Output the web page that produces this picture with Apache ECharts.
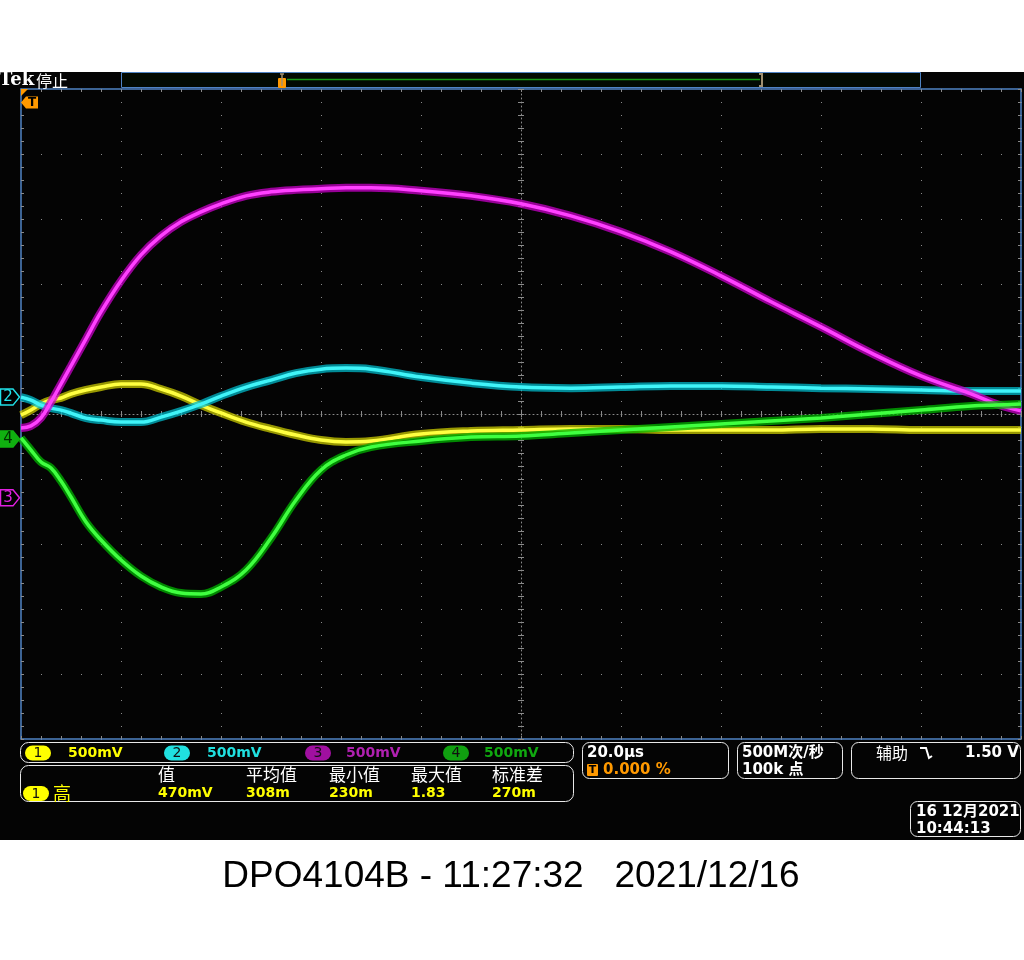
<!DOCTYPE html>
<html><head><meta charset="utf-8">
<script src="https://cdn.jsdelivr.net/npm/echarts@6.0.0/dist/echarts.min.js"></script>
<style>html,body{margin:0;padding:0;background:#fff}#c{width:1024px;height:960px}</style>
</head><body><div id="c"></div>
<script>
// ---- data (time in µs from left edge, volts relative to each channel ground) ----
const TIME_US = [0,2,4,6,8,10,13,16,20,24,28,32,36,40,45,50,55,60,65,70,80,90,100,110,120,130,140,150,160,170,180,190,195,200];
const CH1_V = [-0.008,0.031,0.077,0.108,0.123,0.154,0.185,0.208,0.231,0.231,0.192,0.138,0.069,0.008,-0.062,-0.115,-0.162,-0.200,-0.215,-0.208,-0.154,-0.131,-0.123,-0.115,-0.115,-0.123,-0.123,-0.123,-0.115,-0.115,-0.123,-0.123,-0.123,-0.123];
const CH2_V = [0,-0.023,-0.062,-0.085,-0.100,-0.123,-0.162,-0.177,-0.192,-0.192,-0.154,-0.108,-0.054,0.008,0.077,0.131,0.185,0.215,0.223,0.215,0.154,0.108,0.077,0.069,0.077,0.085,0.085,0.077,0.069,0.062,0.054,0.046,0.046,0.046];
const CH3_V = [0.538,0.554,0.615,0.738,0.877,1.015,1.223,1.430,1.670,1.869,2.015,2.123,2.200,2.262,2.323,2.354,2.369,2.377,2.385,2.385,2.362,2.323,2.262,2.169,2.046,1.892,1.708,1.508,1.315,1.115,0.938,0.800,0.723,0.669];
const CH4_V = [0.008,-0.085,-0.177,-0.223,-0.323,-0.446,-0.638,-0.777,-0.931,-1.054,-1.138,-1.185,-1.192,-1.138,-1.008,-0.762,-0.469,-0.238,-0.123,-0.062,-0.015,0.015,0.023,0.046,0.069,0.092,0.115,0.138,0.162,0.192,0.223,0.254,0.262,0.269];

// instrument settings / texts
const VOLTS_PER_DIV = 0.5;
const CH_GROUND_DIV = [0, 0.26, -1.29, -0.385];
const CH_NAMES = ['1','2','3','4'];
const CH_SCALE_TEXT = ['500mV','500mV','500mV','500mV'];
const MEAS_HEADERS = ['值','平均值','最小值','最大值','标准差'];
const MEAS_VALUES = ['470mV','308m','230m','1.83','270m'];
const MEAS_NAME = '高';
const TIMEBASE = '20.0µs';
const TRIG_POS = '0.000 %';
const SAMPLE_RATE = '500M次/秒';
const RECORD_LEN = '100k 点';
const TRIG_SRC = '辅助';
const TRIG_LEVEL = '1.50 V';
const DATE_TEXT = '16 12月2021';
const TIME_TEXT = '10:44:13';
const STATUS = '停止';
const FOOTER = 'DPO4104B - 11:27:32   2021/12/16';

const CH_DATA = [CH1_V, CH2_V, CH3_V, CH4_V];
const CORE = ['#ffff40', '#40f4f8', '#ff40ff', '#40ff40'];
const BAND = ['#c8c800', '#00b8c8', '#c800c8', '#00b400'];
const BADGE = ['#ffff00', '#20e0e0', '#a010a0', '#10a010'];
const TXT = ['#ffff00', '#20e0e0', '#b020b0', '#10a810'];
const MARK = ['#ffff00', '#20e0e8', '#e020e0', '#10b010'];

const BLUE = '#4f83c4', GRIDC = '#8a8a8a';
const chart = echarts.init(document.getElementById('c'), null, {renderer: 'canvas'});

const GL = 21, GT = 89, GW = 1000, GH = 650;
function hiddenAxisBase() {
  return {axisLabel: {show: false}, splitLine: {show: false}, axisTick: {show: false}, axisLine: {show: false, onZero: false}};
}
const xAxes = [
  Object.assign(hiddenAxisBase(), {type: 'value', min: 0, max: 200, interval: 20, position: 'bottom',
    axisLine: {show: true, onZero: false, lineStyle: {color: BLUE, width: 1.5}},
    splitLine: {show: true, lineStyle: {color: GRIDC, width: 1, type: [1, 12]}}}),
  Object.assign(hiddenAxisBase(), {type: 'value', min: 0, max: 200, interval: 4, position: 'top',
    axisLine: {show: true, onZero: false, lineStyle: {color: BLUE, width: 1.5}},
    axisTick: {show: true, inside: true, length: 3, lineStyle: {color: GRIDC}}}),
  Object.assign(hiddenAxisBase(), {type: 'value', min: 0, max: 200, interval: 4, position: 'bottom',
    axisTick: {show: true, inside: true, length: 3, lineStyle: {color: GRIDC}}}),
  Object.assign(hiddenAxisBase(), {type: 'value', min: 0, max: 200, interval: 4, position: 'bottom', offset: -GH/2,
    axisLine: {show: true, onZero: false, lineStyle: {color: GRIDC, width: 1, type: [1, 3]}},
    axisTick: {show: true, inside: true, length: 3, lineStyle: {color: GRIDC}}}),
  Object.assign(hiddenAxisBase(), {type: 'value', min: 0, max: 200, interval: 4, position: 'bottom', offset: -GH/2,
    axisTick: {show: true, inside: false, length: 3, lineStyle: {color: GRIDC}}})
];
const yAxes = [
  Object.assign(hiddenAxisBase(), {type: 'value', min: -5, max: 5, interval: 1, position: 'left',
    axisLine: {show: true, onZero: false, lineStyle: {color: BLUE, width: 1.5}},
    splitLine: {show: true, lineStyle: {color: GRIDC, width: 1, type: [1, 19]}}}),
  Object.assign(hiddenAxisBase(), {type: 'value', min: -5, max: 5, interval: 0.2, position: 'left',
    axisTick: {show: true, inside: true, length: 3, lineStyle: {color: GRIDC}}}),
  Object.assign(hiddenAxisBase(), {type: 'value', min: -5, max: 5, interval: 0.2, position: 'right',
    axisLine: {show: true, onZero: false, lineStyle: {color: BLUE, width: 1.5}},
    axisTick: {show: true, inside: true, length: 3, lineStyle: {color: GRIDC}}}),
  Object.assign(hiddenAxisBase(), {type: 'value', min: -5, max: 5, interval: 0.2, position: 'left', offset: -GW/2,
    axisLine: {show: true, onZero: false, lineStyle: {color: GRIDC, width: 1, type: [1, 3]}},
    axisTick: {show: true, inside: true, length: 3, lineStyle: {color: GRIDC}}}),
  Object.assign(hiddenAxisBase(), {type: 'value', min: -5, max: 5, interval: 0.2, position: 'left', offset: -GW/2,
    axisTick: {show: true, inside: false, length: 3, lineStyle: {color: GRIDC}}})
];
const CH_AXIS0 = yAxes.length;
CH_GROUND_DIV.forEach(function (off) {
  yAxes.push(Object.assign(hiddenAxisBase(), {type: 'value', show: false,
    min: (-5 - off) * VOLTS_PER_DIV, max: (5 - off) * VOLTS_PER_DIV}));
});

const series = [];
CH_DATA.forEach(function (vals, k) {
  const d = TIME_US.map(function (t, i) { return [t, vals[i]]; });
  series.push({type: 'line', name: 'CH' + (k + 1) + ' band', xAxisIndex: 0, yAxisIndex: CH_AXIS0 + k, data: d,
    smooth: 0.4, symbol: 'none', silent: true, z: 3 + k * 2, animation: false,
    lineStyle: {color: BAND[k], width: 8, opacity: 0.75}});
  series.push({type: 'line', name: 'CH' + (k + 1), xAxisIndex: 0, yAxisIndex: CH_AXIS0 + k, data: d,
    smooth: 0.4, symbol: 'none', silent: true, z: 4 + k * 2, animation: false,
    lineStyle: {color: CORE[k], width: 3.5, opacity: 1}});
});

chart.setOption({
  backgroundColor: '#ffffff',
  animation: false,
  grid: {left: GL, top: GT, width: GW, height: GH, containLabel: false, outerBoundsMode: 'none'},
  xAxis: xAxes, yAxis: yAxes, series: series
});

// ---- decorations ----
function txt(x, y, text, color, font, align) {
  return {type: 'text', x: x, y: y, z: 60, silent: true,
    style: {text: text, fill: color, font: font, textAlign: align || 'left', textVerticalAlign: 'middle',
      align: align || 'left', verticalAlign: 'middle'}};
}
function rrect(x, y, w, h, r, stroke, fill, z) {
  return {type: 'rect', z: z || 50, silent: true, shape: {x: x, y: y, width: w, height: h, r: r},
    style: {fill: fill || 'none', stroke: stroke || 'none', lineWidth: 1}};
}
const MONO = '"DejaVu Sans", "Noto Sans CJK SC", sans-serif';
const CJK = '"Noto Sans CJK SC", "DejaVu Sans", sans-serif';
const g = [];
// black screen
g.push({type: 'rect', z: -100, silent: true, shape: {x: 0, y: 72, width: 1024, height: 768}, style: {fill: '#040404'}});
// top bar
g.push(txt(-1, 80.5, 'Tek', '#ffffff', 'bold 18px "DejaVu Serif", serif'));
g.push(txt(36, 80.5, STATUS, '#ffffff', '16px ' + CJK));
g.push(rrect(121.5, 72.5, 799, 15, 0, BLUE, '#020a02'));
g.push({type: 'line', z: 55, silent: true, shape: {x1: 287, y1: 79.5, x2: 760, y2: 79.5}, style: {stroke: '#1a9a1a', lineWidth: 1.5}});
g.push(rrect(278, 78, 8, 10, 1, null, '#ff9900', 56));
g.push({type: 'polyline', z: 57, silent: true, shape: {points: [[280, 74], [284, 74]]}, style: {stroke: '#a09070', lineWidth: 1.5}});
g.push({type: 'line', z: 57, silent: true, shape: {x1: 282, y1: 74, x2: 282, y2: 86}, style: {stroke: '#a09070', lineWidth: 1.5}});
g.push({type: 'polyline', z: 57, silent: true, shape: {points: [[759, 74], [762, 74], [762, 86], [759, 86]]}, style: {stroke: '#a09070', lineWidth: 2, fill: 'none'}});
// orange corner + trigger T marker
g.push({type: 'polygon', z: 58, silent: true, shape: {points: [[21, 89], [28, 89], [21, 96]]}, style: {fill: '#ff9900'}});
g.push({type: 'polygon', z: 58, silent: true, shape: {points: [[21, 102.5], [26, 96.5], [38, 96.5], [38, 108.5], [26, 108.5]]}, style: {fill: '#ff9900'}});
g.push(txt(32, 103, 'T', '#000000', 'bold 12px ' + MONO, 'center'));
// channel ground markers (position from each channel's axis)
[1, 2, 3].forEach(function (k) {
  const yg = chart.convertToPixel({yAxisIndex: CH_AXIS0 + k}, 0);
  const filled = (k === 3);
  g.push({type: 'polygon', z: 58, silent: true,
    shape: {points: [[0.5, yg - 8], [13, yg - 8], [19.5, yg], [13, yg + 8], [0.5, yg + 8]]},
    style: {fill: filled ? MARK[k] : '#000000', stroke: MARK[k], lineWidth: 1.5}});
  g.push(txt(8, yg + 0.5, CH_NAMES[k], filled ? '#003000' : MARK[k], '15px ' + MONO, 'center'));
});
// bottom row 1: channel scales
g.push(rrect(20.5, 742.5, 553, 20, 8, '#e8e8e8'));
const BADGE_X = [25, 164, 305, 443];
const SCALE_X = [68, 207, 346, 484];
CH_NAMES.forEach(function (n, k) {
  g.push(rrect(BADGE_X[k], 745.5, 26, 15, 7.5, null, BADGE[k], 55));
  g.push(txt(BADGE_X[k] + 13, 753.5, n, '#101010', '14px ' + MONO, 'center'));
  g.push(txt(SCALE_X[k], 753, CH_SCALE_TEXT[k], TXT[k], 'bold 14px ' + MONO));
});
// row 2: measurements
g.push(rrect(20.5, 765.5, 553, 36, 8, '#e8e8e8'));
const MEAS_X = [158, 246, 329, 411, 492];
MEAS_HEADERS.forEach(function (h, i) {
  g.push(txt(MEAS_X[i], 774.5, h, '#ffffff', '17px ' + CJK));
  g.push(txt(MEAS_X[i], 793, MEAS_VALUES[i], '#ffff00', 'bold 14px ' + MONO));
});
g.push(rrect(23, 786, 26, 15, 7.5, null, '#ffff00', 55));
g.push(txt(36, 794, '1', '#101010', '14px ' + MONO, 'center'));
g.push(txt(53, 793, MEAS_NAME, '#ffff00', '18px ' + CJK));
// timebase box
g.push(rrect(582.5, 742.5, 146, 36, 7, '#e8e8e8'));
g.push(txt(587, 753, TIMEBASE, '#ffffff', 'bold 15px ' + MONO));
g.push(rrect(587, 764, 11, 12, 1, null, '#ff9900', 55));
g.push(txt(592.5, 770.5, 'T', '#000000', 'bold 11px ' + MONO, 'center'));
g.push(txt(603, 770.5, TRIG_POS, '#ff9900', 'bold 15px ' + MONO));
// acquisition box
g.push(rrect(737.5, 742.5, 105, 36, 7, '#e8e8e8'));
g.push(txt(742, 753, SAMPLE_RATE, '#ffffff', 'bold 15px ' + MONO));
g.push(txt(742, 770.5, RECORD_LEN, '#ffffff', 'bold 15px ' + MONO));
// trigger box
g.push(rrect(851.5, 742.5, 169, 36, 7, '#e8e8e8'));
g.push(txt(876, 753, TRIG_SRC, '#ffffff', '16px ' + CJK));
g.push({type: 'polyline', z: 60, silent: true, shape: {points: [[920, 748], [926, 748], [929, 758], [932, 756]]}, style: {stroke: '#ffffff', lineWidth: 2, fill: 'none'}});
g.push(txt(965, 753, TRIG_LEVEL, '#ffffff', 'bold 15px ' + MONO));
// date box
g.push(rrect(910.5, 801.5, 110, 35, 7, '#e8e8e8'));
g.push(txt(916, 812, DATE_TEXT, '#ffffff', 'bold 15px ' + MONO));
g.push(txt(916, 829, TIME_TEXT, '#ffffff', 'bold 15px ' + MONO));
// footer
g.push(txt(511, 877, FOOTER, '#000000', '37px "Liberation Sans", Arial, sans-serif', 'center'));

chart.setOption({graphic: {elements: g}});
</script></body></html>
